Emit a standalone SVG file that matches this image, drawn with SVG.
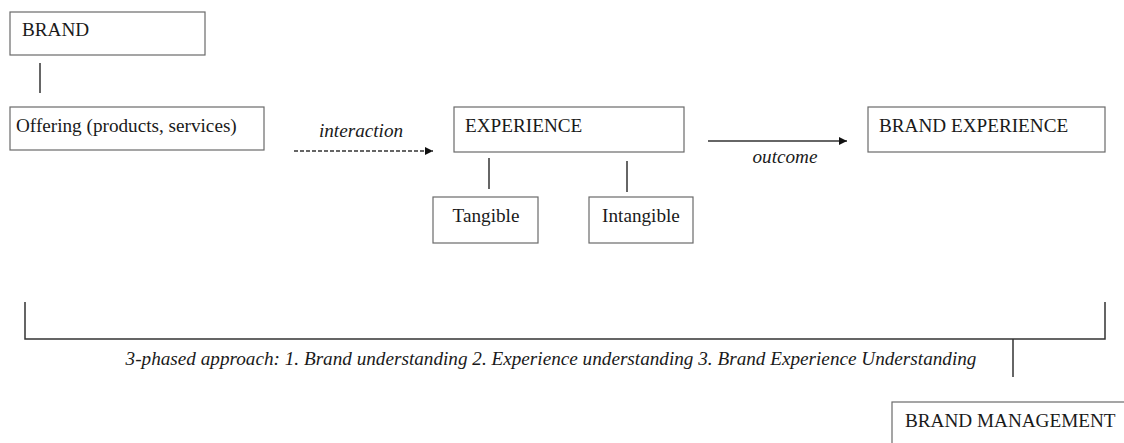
<svg xmlns="http://www.w3.org/2000/svg" width="1124" height="443" viewBox="0 0 1124 443">
<style>
.box{fill:#fff;stroke:#6a6a6a;stroke-width:1.2}
text{font-family:'Liberation Serif','Times New Roman',serif;font-size:19.2px;fill:#1a1a1a}
.i{font-style:italic}
.ln{stroke:#333;stroke-width:1.5;fill:none}
</style>
<defs>
<marker id="ah" viewBox="0 0 10 10" refX="10" refY="5" markerWidth="8" markerHeight="8" markerUnits="userSpaceOnUse" orient="auto">
<path d="M0,0 L10,5 L0,10 z" fill="#111"/>
</marker>
</defs>
<rect width="1124" height="443" fill="#fff"/>
<g id="connectors">
<line class="ln" x1="40" y1="63" x2="40" y2="93"/>
<line class="ln" x1="294" y1="151" x2="433" y2="151" stroke-dasharray="4,2" marker-end="url(#ah)"/>
<text class="i" x="361" y="137" text-anchor="middle">interaction</text>
<line class="ln" x1="489" y1="158" x2="489" y2="189"/>
<line class="ln" x1="627" y1="161" x2="627" y2="192"/>
<line class="ln" x1="708" y1="141" x2="847" y2="141" marker-end="url(#ah)"/>
<text class="i" x="785" y="163" text-anchor="middle">outcome</text>
<path class="ln" d="M25,302 V339 H1105 V302"/>
<line class="ln" x1="1013" y1="339" x2="1013" y2="377"/>
<text class="i" x="551" y="365" text-anchor="middle">3-phased approach: 1. Brand understanding 2. Experience understanding 3. Brand Experience Understanding</text>
</g>
<g id="brand">
<rect class="box" x="10" y="12" width="195" height="43"/>
<text x="22" y="36">BRAND</text>
</g>
<g id="offering">
<rect class="box" x="10" y="107" width="254" height="43"/>
<text x="16" y="132">Offering (products, services)</text>
</g>
<g id="experience">
<rect class="box" x="454" y="107" width="230" height="45"/>
<text x="465" y="132">EXPERIENCE</text>
</g>
<g id="tangible">
<rect class="box" x="433" y="197" width="105" height="46"/>
<text x="486" y="222" text-anchor="middle">Tangible</text>
</g>
<g id="intangible">
<rect class="box" x="589" y="197" width="104" height="46"/>
<text x="641" y="222" text-anchor="middle">Intangible</text>
</g>
<g id="brand-experience">
<rect class="box" x="868" y="107" width="237" height="45"/>
<text x="879" y="132">BRAND EXPERIENCE</text>
</g>
<g id="brand-management">
<rect class="box" x="892" y="402" width="240" height="50"/>
<text x="905" y="427">BRAND MANAGEMENT</text>
</g>
</svg>
